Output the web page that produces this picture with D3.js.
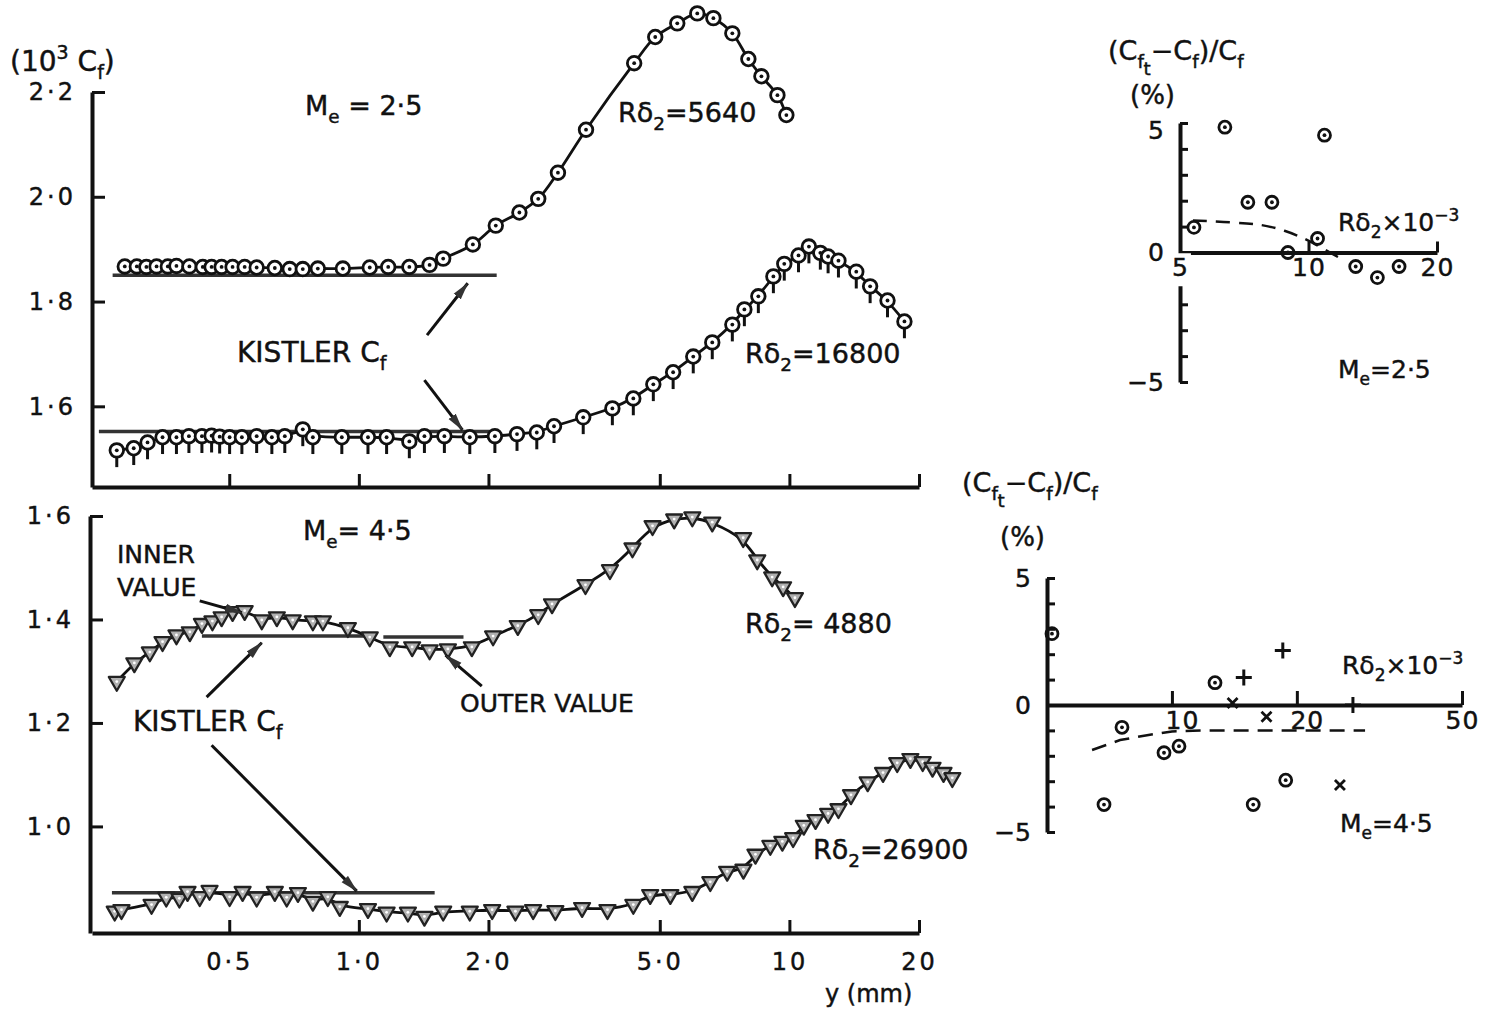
<!DOCTYPE html>
<html>
<head>
<meta charset="utf-8">
<script src="https://cdn.jsdelivr.net/npm/d3@7"></script>
<style>
  body { margin: 0; background: #fff; }
  text { font-family: "DejaVu Sans", sans-serif; fill: #111; stroke: #111; stroke-width: 0.45px; }
</style>
</head>
<body>
<svg id="fig" width="1497" height="1013"></svg>
<script>
// ---- data: [y (mm), 10^3 Cf] ----
const me25_r5640 = [[0.286,1.867],[0.305,1.867],[0.321,1.866],[0.339,1.867],[0.360,1.867],[0.377,1.868],
  [0.404,1.867],[0.434,1.866],[0.455,1.866],[0.480,1.866],[0.509,1.866],[0.543,1.866],[0.579,1.865],
  [0.638,1.864],[0.691,1.862],[0.741,1.862],[0.803,1.863],[0.918,1.863],[1.06,1.865],[1.17,1.866],
  [1.31,1.866],[1.46,1.870],[1.57,1.882],[1.84,1.909],[2.08,1.945],[2.36,1.970],[2.61,1.996],
  [2.90,2.046],[3.37,2.128],[4.36,2.255],[4.88,2.305],[5.49,2.331],[6.11,2.350],[6.66,2.341],
  [7.37,2.312],[8.03,2.263],[8.61,2.230],[9.38,2.194],[9.84,2.156]];

const me25_r16800 = [[0.274,1.516],[0.300,1.520],[0.323,1.531],[0.350,1.541],[0.377,1.541],[0.403,1.543],
  [0.432,1.543],[0.455,1.544],[0.475,1.542],[0.501,1.541],[0.535,1.541],[0.579,1.543],[0.628,1.541],
  [0.673,1.543],[0.741,1.556],[0.782,1.541],[0.913,1.541],[1.05,1.541],[1.16,1.541],[1.31,1.533],
  [1.42,1.543],[1.58,1.543],[1.81,1.541],[2.07,1.543],[2.33,1.547],[2.59,1.550],[2.84,1.562],
  [3.32,1.579],[3.88,1.596],[4.34,1.615],[4.83,1.642],[5.37,1.665],[5.98,1.695],[6.62,1.722],
  [7.37,1.756],[7.86,1.785],[8.47,1.810],[9.18,1.848],[9.73,1.872],[10.5,1.888],[11.1,1.905],
  [11.8,1.893],[12.3,1.886],[13.0,1.878],[14.3,1.857],[15.4,1.829],[16.9,1.802],[18.5,1.762]];

const me45_r4880 = [[0.274,1.280],[0.301,1.316],[0.327,1.337],[0.350,1.357],[0.377,1.370],[0.405,1.376],
  [0.432,1.392],[0.457,1.397],[0.480,1.405],[0.509,1.415],[0.543,1.417],[0.595,1.399],[0.645,1.405],
  [0.702,1.399],[0.782,1.397],[0.825,1.397],[0.943,1.384],[1.06,1.366],[1.18,1.347],[1.33,1.347],
  [1.46,1.341],[1.61,1.343],[1.83,1.347],[2.05,1.368],[2.34,1.388],[2.61,1.409],[2.81,1.430],
  [3.36,1.467],[3.83,1.496],[4.32,1.538],[4.81,1.581],[5.40,1.594],[5.95,1.598],[6.62,1.588],
  [7.81,1.558],[8.42,1.515],[9.12,1.482],[9.67,1.463],[10.3,1.442]];

const me45_r26900 = [[0.271,0.836],[0.281,0.839],[0.330,0.849],[0.357,0.863],[0.383,0.861],[0.400,0.874],
  [0.427,0.864],[0.450,0.876],[0.501,0.864],[0.537,0.874],[0.579,0.863],[0.638,0.874],[0.680,0.863],
  [0.722,0.872],[0.782,0.855],[0.847,0.864],[0.903,0.845],[1.05,0.841],[1.16,0.834],[1.30,0.834],
  [1.42,0.826],[1.57,0.836],[1.81,0.836],[2.04,0.839],[2.31,0.836],[2.54,0.839],[2.86,0.837],
  [3.30,0.843],[3.78,0.839],[4.34,0.849],[4.75,0.868],[5.29,0.868],[5.95,0.874],[6.55,0.893],
  [7.17,0.913],[7.82,0.917],[8.34,0.946],[9.03,0.963],[9.63,0.971],[10.2,0.978],[10.8,1.002],
  [11.5,1.013],[12.3,1.025],[13.0,1.034],[13.9,1.061],[15.2,1.086],[16.5,1.104],[17.8,1.123],
  [19.1,1.131],[20.4,1.125],[21.5,1.114],[22.8,1.104],[23.9,1.094]];

// Kistler Cf levels: [from mm, to mm, 10^3 Cf]
const kistlerTop = [[0.268, 2.09, 1.850], [0.249, 2.07, 1.552]];
const kistlerBot = [[0.432, 1.06, 1.368], [1.14, 1.75, 1.366], [0.267, 1.50, 0.872]];

// annotation arrows: [tail, head] in [mm, Cf]
const arrowsTop = [[[1.44, 1.736], [1.79, 1.835]], [[1.42, 1.650], [1.74, 1.555]]];
const arrowsBot = [[[0.427, 1.436], [0.535, 1.413]], [[0.443, 1.250], [0.595, 1.355]],
  [[0.455, 1.157], [0.989, 0.875]], [[1.93, 1.271], [1.59, 1.331]]];

// insets: [R delta2 x 10^-3, (Cft - Cf)/Cf %]
const in25_circles = [[6.37,4.84],[10.9,4.53],[7.21,1.94],[8.21,1.94],[5.39,0.97],[8.95,0.0],
  [10.5,0.54],[12.9,-0.54],[14.5,-0.97],[16.3,-0.54]];
const in25_dash = [[5.36,1.24],[6.65,1.16],[7.78,1.09],[8.81,0.85],[9.81,0.54],[10.9,0.12],[12.0,-0.27]];
const in45_circles = [[5.14,2.81],[6.86,-3.92],[7.58,-0.88],[9.57,-1.88],[10.4,-1.62],[12.7,0.88],
  [15.7,-3.92],[18.8,-2.96]];
const in45_plus = [[14.9,1.08],[18.5,2.15],[27.3,0]];
const in45_cross = [[14.0,0.08],[16.9,-0.46],[25.4,-3.15]];
const in45_dash = [[6.42,-1.77],[7.50,-1.38],[8.71,-1.19],[10,-1.04],[12.2,-1.0],[29.2,-1.0]];

const mainTicksY_top = [1.6, 1.8, 2.0, 2.2];
const mainTicksY_bot = [1.0, 1.2, 1.4, 1.6];
const mainTicksX = [0.5, 1, 2, 5, 10, 20];

// ---- scales ----
const svg = d3.select("#fig");
const ink = "#111";
const xMain = d3.scaleLog().domain([0.24, 20]).range([92, 919]);
const yTop = d3.scaleLinear().domain([1.446, 2.2]).range([487, 92]);
const yBot = d3.scaleLinear().domain([0.794, 1.6]).range([933, 516]);
const xIn1 = d3.scaleLog().domain([5, 20]).range([1180, 1437]);
const yIn1 = d3.scaleLinear().domain([-5, 5]).range([382, 123]);
const xIn2 = d3.scaleLog().domain([5, 50]).range([1047, 1462]);
const yIn2 = d3.scaleLinear().domain([-5, 5]).range([832, 578]);

const tenth = v => v.toFixed(1).replace(".", "\u00b7");

svg.append("defs").append("marker")
  .attr("id", "head").attr("markerUnits", "userSpaceOnUse")
  .attr("markerWidth", 18).attr("markerHeight", 10).attr("refX", 17).attr("refY", 5)
  .attr("orient", "auto")
  .append("path").attr("d", "M0,0.5 L18,5 L0,9.5 Z").attr("fill", "#333");

function dress(g, size, spacing) {
  g.attr("font-family", null).attr("font-size", null);
  g.select(".domain").attr("stroke", ink).attr("stroke-width", 4);
  g.selectAll(".tick line").attr("stroke", ink).attr("stroke-width", 3);
  g.selectAll(".tick text").attr("font-size", size).attr("fill", ink).attr("letter-spacing", spacing || 0);
}

// Kistler reference lines
function kistler(list, ys) {
  svg.append("g").selectAll("line").data(list).join("line")
    .attr("x1", d => xMain(d[0])).attr("x2", d => xMain(d[1]))
    .attr("y1", d => ys(d[2])).attr("y2", d => ys(d[2]))
    .attr("stroke", "#333").attr("stroke-width", 3.5);
}
kistler(kistlerTop, yTop);
kistler(kistlerBot, yBot);

// data curves
function curve(data, xs, ys, c, dash) {
  svg.append("path").datum(data)
    .attr("d", d3.line().x(d => xs(d[0])).y(d => ys(d[1])).curve(c))
    .attr("fill", "none").attr("stroke", ink).attr("stroke-width", dash ? 2.5 : 2.8)
    .attr("stroke-dasharray", dash || null);
}
curve(me25_r5640, xMain, yTop, d3.curveCatmullRom);
curve(me25_r16800, xMain, yTop, d3.curveBasis);
curve(me45_r4880, xMain, yBot, d3.curveBasis);
curve(me45_r26900, xMain, yBot, d3.curveBasis);
curve(in25_dash, xIn1, yIn1, d3.curveBasis, "14,9");
curve(in45_dash, xIn2, yIn2, d3.curveLinear, "15,9");

// markers
function circles(data, xs, ys, r, tail) {
  const g = svg.append("g").selectAll("g").data(data).join("g")
    .attr("transform", d => `translate(${xs(d[0])},${ys(d[1])})`);
  if (tail) g.append("line").attr("y1", r).attr("y2", r + 10).attr("stroke", ink).attr("stroke-width", 3);
  g.append("circle").attr("r", r).attr("fill", "#fff").attr("stroke", ink).attr("stroke-width", 2.8);
  g.append("circle").attr("r", 1.9).attr("fill", ink);
}
function triangles(data, xs, ys) {
  const g = svg.append("g").selectAll("g").data(data).join("g")
    .attr("transform", d => `translate(${xs(d[0])},${ys(d[1])})`);
  g.append("path").attr("d", d3.symbol(d3.symbolTriangle, 110)).attr("transform", "rotate(180)")
    .attr("fill", "#b0b0b0").attr("stroke", "#222").attr("stroke-width", 2.3).attr("stroke-linejoin", "round");
  g.append("circle").attr("r", 1.4).attr("fill", "#fff");
}
circles(me25_r5640, xMain, yTop, 6.8, false);
circles(me25_r16800, xMain, yTop, 6.8, true);
triangles(me45_r4880, xMain, yBot);
triangles(me45_r26900, xMain, yBot);
circles(in25_circles, xIn1, yIn1, 6, false);
circles(in45_circles, xIn2, yIn2, 6, false);

const plusG = svg.append("g").selectAll("g").data(in45_plus).join("g")
  .attr("transform", d => `translate(${xIn2(d[0])},${yIn2(d[1])})`);
plusG.append("path").attr("d", "M-8,0H8M0,-8V8").attr("stroke", ink).attr("stroke-width", 3);
const crossG = svg.append("g").selectAll("g").data(in45_cross).join("g")
  .attr("transform", d => `translate(${xIn2(d[0])},${yIn2(d[1])})`);
crossG.append("path").attr("d", "M-5,-5L5,5M-5,5L5,-5").attr("stroke", ink).attr("stroke-width", 2.8);

// arrows
function arrows(list, ys) {
  svg.append("g").selectAll("line").data(list).join("line")
    .attr("x1", d => xMain(d[0][0])).attr("y1", d => ys(d[0][1]))
    .attr("x2", d => xMain(d[1][0])).attr("y2", d => ys(d[1][1]))
    .attr("stroke", ink).attr("stroke-width", 3).attr("marker-end", "url(#head)");
}
arrows(arrowsTop, yTop);
arrows(arrowsBot, yBot);

// axes: main
svg.append("g").attr("transform", "translate(92,0)")
  .call(d3.axisLeft(yTop).tickValues(mainTicksY_top).tickSizeInner(-13).tickSizeOuter(0).tickPadding(16).tickFormat(tenth))
  .call(dress, 24, 3);
svg.append("g").attr("transform", "translate(0,487)")
  .call(d3.axisBottom(xMain).tickValues(mainTicksX).tickSizeInner(-13).tickSizeOuter(0).tickFormat(""))
  .call(dress, 24);
svg.append("g").attr("transform", "translate(90,0)")
  .call(d3.axisLeft(yBot).tickValues(mainTicksY_bot).tickSizeInner(-13).tickSizeOuter(0).tickPadding(16).tickFormat(tenth))
  .call(dress, 24, 3);
svg.append("g").attr("transform", "translate(0,933)")
  .call(d3.axisBottom(xMain).tickValues(mainTicksX).tickSizeInner(-13).tickSizeOuter(0).tickPadding(20)
    .tickFormat(v => v < 10 ? tenth(v) : String(v)))
  .call(dress, 24, 3);

// axes: insets
const fiveZeroFive = v => v === 5 ? "5" : v === 0 ? "0" : v === -5 ? "\u22125" : "";
svg.append("g").attr("transform", "translate(1180,0)")
  .call(d3.axisLeft(yIn1).tickValues(d3.range(-5, 6)).tickSizeInner(-8).tickSizeOuter(0).tickPadding(16).tickFormat(fiveZeroFive))
  .call(dress, 25)
  .selectAll(".tick text").attr("dy", d => d === 5 ? "0.6em" : "0.32em");
const gx1 = svg.append("g").attr("transform", `translate(0,${yIn1(0)})`)
  .call(d3.axisBottom(xIn1).tickValues([5, 10, 20]).tickSizeInner(-11).tickSizeOuter(0).tickPadding(6).tickFormat(d3.format("d")))
  .call(dress, 25, 1);
// the origin label breaks the vertical axis in the original
const t5 = gx1.select(".tick text");
const bb = t5.node().getBBox();
gx1.select(".tick").insert("rect", "text").attr("x", bb.x - 2).attr("y", bb.y).attr("width", bb.width + 4)
  .attr("height", bb.height + 4).attr("fill", "#fff");

svg.append("g").attr("transform", "translate(1047,0)")
  .call(d3.axisLeft(yIn2).tickValues(d3.range(-5, 6)).tickSizeInner(-8).tickSizeOuter(0).tickPadding(16).tickFormat(fiveZeroFive))
  .call(dress, 25);
svg.append("g").attr("transform", `translate(0,${yIn2(0)})`)
  .call(d3.axisBottom(xIn2).tickValues([10, 20, 50]).tickSizeInner(-14).tickSizeOuter(0).tickPadding(6).tickFormat(d3.format("d")))
  .call(dress, 25, 1)
  .selectAll(".tick text").attr("dx", d => d < 50 ? 10 : 0);

// text labels
function label(x, y, parts, size) {
  const t = svg.append("text").attr("x", x).attr("y", y).attr("font-size", size);
  let off = 0;
  parts.forEach(p => {
    const [s, k] = typeof p === "string" ? [p, ""] : p;
    const to = k === "sub" ? 0.28 * size : k === "sup" ? -0.42 * size : k === "sub2" ? 0.55 * size : 0;
    t.append("tspan").attr("dy", to - off).attr("font-size", k ? size * 0.68 : size).text(s);
    off = to;
  });
  return t;
}
const cfRatio = ["(C", ["f", "sub"], ["t", "sub2"], "\u2212C", ["f", "sub"], ")/C", ["f", "sub"]];

label(10, 71, ["(10", ["3", "sup"], " C", ["f", "sub"], ")"], 28);
label(305, 115, ["M", ["e", "sub"], " = 2\u00b75"], 27);
label(618, 122, ["R\u03b4", ["2", "sub"], "=5640"], 27);
label(237, 362, ["KISTLER  C", ["f", "sub"]], 28);
label(745, 363, ["R\u03b4", ["2", "sub"], "=16800"], 27);

label(303, 540, ["M", ["e", "sub"], "= 4\u00b75"], 27);
label(117, 563, ["INNER"], 25);
label(117, 596, ["VALUE"], 25);
label(133, 731, ["KISTLER C", ["f", "sub"]], 28);
label(460, 712, ["OUTER VALUE"], 25);
label(745, 633, ["R\u03b4", ["2", "sub"], "= 4880"], 27);
label(813, 859, ["R\u03b4", ["2", "sub"], "=26900"], 27);
label(825, 1002, ["y (mm)"], 24);

label(1108, 60, cfRatio, 27);
label(1130, 104, ["(%)"], 26);
label(1338, 231, ["R\u03b4", ["2", "sub"], "\u00d710", ["\u22123", "sup"]], 25);
label(1338, 378, ["M", ["e", "sub"], "=2\u00b75"], 25);

label(962, 492, cfRatio, 27);
label(1000, 546, ["(%)"], 26);
label(1342, 674, ["R\u03b4", ["2", "sub"], "\u00d710", ["\u22123", "sup"]], 25);
label(1340, 832, ["M", ["e", "sub"], "=4\u00b75"], 25);
</script>
</body>
</html>
